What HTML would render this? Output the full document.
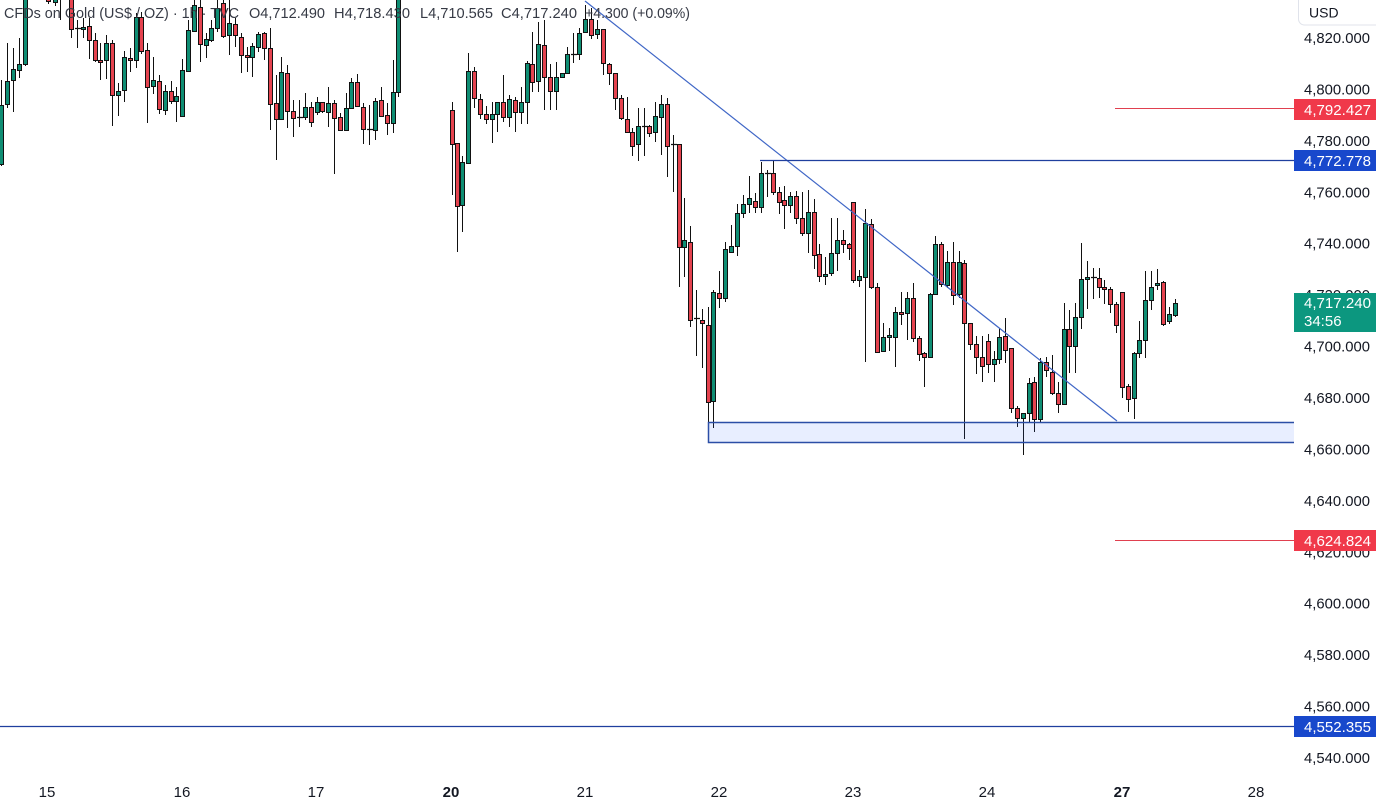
<!DOCTYPE html>
<html><head><meta charset="utf-8"><style>
html,body{margin:0;padding:0;background:#fff;}
svg{display:block;font-family:"Liberation Sans",Arial,sans-serif;}
</style></head><body>
<svg width="1376" height="803" viewBox="0 0 1376 803" xmlns="http://www.w3.org/2000/svg">
<rect x="0" y="0" width="1376" height="803" fill="#fff"/>
<!-- wicks -->
<path fill="none" stroke="#111" stroke-width="1" d="M1.5 80V166M7.5 43V108M13.5 48V112M19.5 38V78M25.5 -5V66M48.5 -10V4M55.5 -10V6M60.5 -5V20M71.5 -5V38M77.5 20V48M83.5 18V38M89.5 18V59M95.5 33V62M100.5 43V80M106.5 35V79M112.5 40V126M118.5 83V116M124.5 51V102M130.5 48V72M136.5 13V68M141.5 12V54M147.5 43V123M153.5 57V94M159.5 75V114M165.5 85V115M171.5 81V104M176.5 87V122M182.5 59V117M188.5 20V72M194.5 0V32M200.5 0V62M206.5 33V58M211.5 20V42M217.5 0V32M223.5 0V38M229.5 0V55M235.5 18V47M241.5 33V73M247.5 47V72M252.5 43V77M258.5 32V52M264.5 32V60M270.5 28V130M276.5 75V160M281.5 57V120M287.5 65V128M293.5 100V137M299.5 100V127M305.5 93V120M311.5 102V127M317.5 97V115M322.5 102V113M328.5 87V127M334.5 100V174M340.5 113V131M346.5 93V131M351.5 78V109M357.5 74V107M363.5 103V144M369.5 105V145M375.5 98V140M381.5 87V117M387.5 103V135M393.5 60V133M398.5 -10V97M452.5 102V195M457.5 143V252M462.5 156V232M468.5 53V164M474.5 67V108M480.5 94V119M486.5 106V124M492.5 102V143M497.5 102V132M503.5 75V122M509.5 95V127M515.5 97V132M521.5 87V124M527.5 61V124M532.5 32V92M538.5 22V92M544.5 20V110M550.5 64V110M556.5 62V110M562.5 73V77M567.5 47V74M573.5 33V63M579.5 28V60M585.5 5V32M591.5 8V39M597.5 20V39M603.5 29V75M609.5 63V85M615.5 73V110M621.5 95V120M627.5 97V133M632.5 128V156M638.5 108V161M644.5 108V156M649.5 125V137M655.5 102V142M661.5 95V155M667.5 98V177M673.5 135V192M679.5 144V287M684.5 198V277M690.5 226V327M696.5 290V356M702.5 309V368M708.5 307V427M713.5 290V428M719.5 271V308M725.5 242V302M731.5 225V253M737.5 204V256M743.5 195V218M749.5 176V213M755.5 193V213M761.5 162V213M767.5 170V197M773.5 161V195M779.5 187V214M784.5 186V229M790.5 192V213M796.5 191V224M802.5 192V236M808.5 190V253M814.5 199V269M819.5 244V282M825.5 257V285M831.5 218V276M837.5 218V271M843.5 230V253M849.5 243V260M853.5 202V283M859.5 270V287M865.5 209V362M871.5 219V289M877.5 283V353M883.5 323V352M889.5 328V351M895.5 307V367M901.5 292V325M907.5 292V340M913.5 283V342M919.5 336V361M924.5 352V387M930.5 293V358M935.5 236V295M941.5 242V287M947.5 251V288M953.5 242V305M959.5 251V298M964.5 260V439M970.5 323V350M976.5 336V374M982.5 336V382M988.5 334V373M994.5 351V382M999.5 328V364M1005.5 318V363M1011.5 348V413M1017.5 406V427M1023.5 413V455M1029.5 378V422M1034.5 377V432M1040.5 358V422M1046.5 357V377M1052.5 355V395M1058.5 382V413M1064.5 303V405M1069.5 310V373M1075.5 303V373M1081.5 243V329M1087.5 261V309M1093.5 268V299M1099.5 268V298M1104.5 280V304M1110.5 287V313M1116.5 302V333M1122.5 292V398M1128.5 384V412M1134.5 352V419M1139.5 321V358M1145.5 271V358M1151.5 271V310M1157.5 269V290M1163.5 281V326M1169.5 307V324M1175.5 299V317"/>
<!-- green bodies -->
<path fill="#0f8e74" stroke="#111" stroke-width="1" d="M-0.5 105.5h4v59h-4zM5.5 81.5h4v23h-4zM11.5 69.5h4v11h-4zM17.5 64.5h4v6h-4zM23.5 -4.5h4v69h-4zM53.5 -9.5h4v12h-4zM81.5 27.5h4v2h-4zM104.5 43.5h4v17h-4zM116.5 91.5h4v4h-4zM122.5 57.5h4v33h-4zM134.5 17.5h4v43h-4zM151.5 80.5h4v6h-4zM163.5 91.5h4v19h-4zM174.5 96.5h4v5h-4zM180.5 70.5h4v46h-4zM186.5 30.5h4v41h-4zM192.5 5.5h4v26h-4zM204.5 39.5h4v6h-4zM209.5 28.5h4v12h-4zM215.5 8.5h4v20h-4zM227.5 23.5h4v12h-4zM250.5 46.5h4v11h-4zM256.5 34.5h4v13h-4zM279.5 72.5h4v47h-4zM303.5 107.5h4v10h-4zM315.5 102.5h4v10h-4zM326.5 103.5h4v9h-4zM344.5 108.5h4v22h-4zM349.5 82.5h4v26h-4zM373.5 101.5h4v29h-4zM391.5 92.5h4v31h-4zM396.5 -9.5h4v102h-4zM460.5 162.5h4v43h-4zM466.5 71.5h4v92h-4zM490.5 114.5h4v5h-4zM495.5 102.5h4v12h-4zM507.5 99.5h4v18h-4zM519.5 102.5h4v10h-4zM525.5 63.5h4v39h-4zM536.5 44.5h4v37h-4zM554.5 77.5h4v14h-4zM560.5 73.5h4v4h-4zM565.5 54.5h4v19h-4zM577.5 33.5h4v21h-4zM583.5 19.5h4v13h-4zM595.5 29.5h4v5h-4zM636.5 126.5h4v18h-4zM653.5 116.5h4v16h-4zM659.5 104.5h4v13h-4zM682.5 240.5h4v7h-4zM711.5 292.5h4v109h-4zM723.5 249.5h4v49h-4zM729.5 246.5h4v6h-4zM735.5 213.5h4v33h-4zM741.5 204.5h4v9h-4zM747.5 198.5h4v6h-4zM759.5 173.5h4v34h-4zM788.5 196.5h4v9h-4zM806.5 212.5h4v21h-4zM823.5 274.5h4v2h-4zM829.5 253.5h4v20h-4zM835.5 240.5h4v13h-4zM857.5 276.5h4v4h-4zM863.5 223.5h4v54h-4zM881.5 337.5h4v14h-4zM887.5 335.5h4v2h-4zM893.5 312.5h4v25h-4zM905.5 298.5h4v15h-4zM928.5 294.5h4v63h-4zM933.5 244.5h4v50h-4zM945.5 262.5h4v23h-4zM957.5 262.5h4v32h-4zM992.5 359.5h4v5h-4zM997.5 337.5h4v22h-4zM1021.5 413.5h4v5h-4zM1027.5 383.5h4v30h-4zM1038.5 362.5h4v57h-4zM1062.5 329.5h4v75h-4zM1073.5 317.5h4v29h-4zM1079.5 279.5h4v38h-4zM1085.5 277.5h4v2h-4zM1132.5 353.5h4v45h-4zM1137.5 340.5h4v13h-4zM1143.5 300.5h4v40h-4zM1149.5 287.5h4v13h-4zM1155.5 283.5h4v2h-4zM1167.5 314.5h4v7h-4zM1173.5 303.5h4v12h-4z"/>
<!-- red bodies -->
<path fill="#e5434f" stroke="#111" stroke-width="1" d="M46.5 -9.5h4v11h-4zM69.5 -4.5h4v34h-4zM87.5 26.5h4v14h-4zM93.5 40.5h4v20h-4zM98.5 60.5h4v2h-4zM110.5 43.5h4v52h-4zM128.5 58.5h4v2h-4zM139.5 17.5h4v34h-4zM145.5 50.5h4v37h-4zM157.5 81.5h4v28h-4zM169.5 91.5h4v10h-4zM198.5 7.5h4v37h-4zM221.5 3.5h4v33h-4zM233.5 24.5h4v11h-4zM239.5 37.5h4v18h-4zM245.5 55.5h4v2h-4zM262.5 33.5h4v15h-4zM268.5 48.5h4v56h-4zM274.5 103.5h4v16h-4zM285.5 73.5h4v38h-4zM291.5 111.5h4v7h-4zM309.5 107.5h4v15h-4zM320.5 102.5h4v9h-4zM332.5 103.5h4v15h-4zM338.5 117.5h4v13h-4zM355.5 82.5h4v24h-4zM361.5 107.5h4v22h-4zM379.5 100.5h4v16h-4zM385.5 115.5h4v8h-4zM450.5 110.5h4v34h-4zM455.5 143.5h4v63h-4zM472.5 71.5h4v27h-4zM478.5 99.5h4v15h-4zM484.5 114.5h4v5h-4zM501.5 102.5h4v15h-4zM513.5 100.5h4v12h-4zM530.5 64.5h4v18h-4zM542.5 45.5h4v32h-4zM548.5 77.5h4v14h-4zM589.5 19.5h4v16h-4zM601.5 29.5h4v34h-4zM607.5 64.5h4v9h-4zM613.5 73.5h4v25h-4zM619.5 98.5h4v20h-4zM625.5 119.5h4v13h-4zM630.5 132.5h4v14h-4zM647.5 126.5h4v7h-4zM665.5 104.5h4v42h-4zM677.5 144.5h4v103h-4zM688.5 242.5h4v78h-4zM700.5 320.5h4v3h-4zM706.5 325.5h4v77h-4zM717.5 293.5h4v5h-4zM753.5 201.5h4v6h-4zM771.5 173.5h4v19h-4zM777.5 192.5h4v10h-4zM782.5 200.5h4v5h-4zM794.5 196.5h4v22h-4zM800.5 218.5h4v15h-4zM812.5 212.5h4v43h-4zM817.5 254.5h4v22h-4zM841.5 240.5h4v4h-4zM847.5 244.5h4v4h-4zM851.5 202.5h4v78h-4zM869.5 224.5h4v63h-4zM875.5 287.5h4v65h-4zM899.5 312.5h4v2h-4zM911.5 298.5h4v40h-4zM917.5 338.5h4v16h-4zM922.5 353.5h4v4h-4zM939.5 244.5h4v40h-4zM951.5 262.5h4v33h-4zM962.5 263.5h4v60h-4zM968.5 323.5h4v21h-4zM974.5 344.5h4v13h-4zM980.5 357.5h4v9h-4zM986.5 341.5h4v23h-4zM1003.5 336.5h4v14h-4zM1009.5 348.5h4v60h-4zM1015.5 408.5h4v10h-4zM1032.5 382.5h4v37h-4zM1044.5 362.5h4v8h-4zM1050.5 372.5h4v21h-4zM1056.5 393.5h4v11h-4zM1067.5 329.5h4v17h-4zM1097.5 278.5h4v9h-4zM1102.5 287.5h4v2h-4zM1108.5 289.5h4v15h-4zM1114.5 304.5h4v21h-4zM1120.5 292.5h4v95h-4zM1126.5 386.5h4v13h-4zM1161.5 282.5h4v42h-4z"/>
<!-- dojis -->
<path fill="none" stroke="#111" stroke-width="1.2" d="M75 28.5h6M297 117.5h6M367 129.5h6M571 54.5h6M642 126.5h6M671 144.5h6M694 318.5h6M765 173.5h6M1091 277.5h6"/>

<!-- zone -->
<rect x="708" y="422" width="586" height="20" fill="rgba(41,98,255,0.11)"/>
<path fill="none" stroke="#2b4ea6" stroke-width="1.5" d="M1294 422.5H708.5V442.5H1294"/>
<!-- trend line -->
<line x1="585" y1="1" x2="1117" y2="421" stroke="#3f66c6" stroke-width="1.2"/>
<!-- horizontal lines -->
<line x1="760" y1="160.5" x2="1294" y2="160.5" stroke="#1f3f9e" stroke-width="1.2"/>
<line x1="0" y1="726.5" x2="1294" y2="726.5" stroke="#1f3f9e" stroke-width="1.2"/>
<line x1="1115" y1="108.5" x2="1294" y2="108.5" stroke="#e0404f" stroke-width="1"/>
<line x1="1115" y1="540.5" x2="1294" y2="540.5" stroke="#e0404f" stroke-width="1"/>

<!-- price axis ticks -->
<g font-size="15" fill="#131722">
<text x="1304" y="43" textLength="66" lengthAdjust="spacingAndGlyphs">4,820.000</text>
<text x="1304" y="94.4" textLength="66" lengthAdjust="spacingAndGlyphs">4,800.000</text>
<text x="1304" y="145.9" textLength="66" lengthAdjust="spacingAndGlyphs">4,780.000</text>
<text x="1304" y="197.3" textLength="66" lengthAdjust="spacingAndGlyphs">4,760.000</text>
<text x="1304" y="248.7" textLength="66" lengthAdjust="spacingAndGlyphs">4,740.000</text>
<text x="1304" y="300.2" textLength="66" lengthAdjust="spacingAndGlyphs">4,720.000</text>
<text x="1304" y="351.6" textLength="66" lengthAdjust="spacingAndGlyphs">4,700.000</text>
<text x="1304" y="403" textLength="66" lengthAdjust="spacingAndGlyphs">4,680.000</text>
<text x="1304" y="454.4" textLength="66" lengthAdjust="spacingAndGlyphs">4,660.000</text>
<text x="1304" y="505.9" textLength="66" lengthAdjust="spacingAndGlyphs">4,640.000</text>
<text x="1304" y="557.3" textLength="66" lengthAdjust="spacingAndGlyphs">4,620.000</text>
<text x="1304" y="608.7" textLength="66" lengthAdjust="spacingAndGlyphs">4,600.000</text>
<text x="1304" y="660.2" textLength="66" lengthAdjust="spacingAndGlyphs">4,580.000</text>
<text x="1304" y="711.6" textLength="66" lengthAdjust="spacingAndGlyphs">4,560.000</text>
<text x="1304" y="763" textLength="66" lengthAdjust="spacingAndGlyphs">4,540.000</text>
</g>

<!-- price labels -->
<rect x="1294" y="99" width="82" height="21" fill="#f0394a"/>
<rect x="1294" y="150" width="82" height="21" fill="#1848cc"/>
<rect x="1294" y="293" width="82" height="39" fill="#0c977f"/>
<rect x="1294" y="530" width="82" height="21" fill="#f0394a"/>
<rect x="1294" y="716" width="82" height="21" fill="#1848cc"/>
<g font-size="15" fill="#fff">
<text x="1304" y="115" textLength="67" lengthAdjust="spacingAndGlyphs">4,792.427</text>
<text x="1304" y="166" textLength="67" lengthAdjust="spacingAndGlyphs">4,772.778</text>
<text x="1304" y="308" textLength="67" lengthAdjust="spacingAndGlyphs">4,717.240</text>
<text x="1304" y="326">34:56</text>
<text x="1304" y="546" textLength="67" lengthAdjust="spacingAndGlyphs">4,624.824</text>
<text x="1304" y="732" textLength="67" lengthAdjust="spacingAndGlyphs">4,552.355</text>
</g>

<!-- USD box -->
<rect x="1298.5" y="-6" width="90" height="31" rx="6" fill="#fff" stroke="#e0e3eb"/>
<text x="1309" y="17.5" font-size="14" fill="#131722">USD</text>

<!-- time axis -->
<g font-size="15" fill="#131722" text-anchor="middle">
<text x="47" y="797">15</text>
<text x="182" y="797">16</text>
<text x="316" y="797">17</text>
<text x="451" y="797" font-weight="bold">20</text>
<text x="585" y="797">21</text>
<text x="719" y="797">22</text>
<text x="853" y="797">23</text>
<text x="987" y="797">24</text>
<text x="1122" y="797" font-weight="bold">27</text>
<text x="1256" y="797">28</text>
</g>

<!-- header legend -->
<g font-size="15" fill="#363a45">
<text x="4" y="18" textLength="235" lengthAdjust="spacingAndGlyphs">CFDs on Gold (US$ / OZ) · 1h · TVC</text>
<text x="249" y="18" textLength="76" lengthAdjust="spacingAndGlyphs">O4,712.490</text>
<text x="334" y="18" textLength="76" lengthAdjust="spacingAndGlyphs">H4,718.430</text>
<text x="420" y="18" textLength="73" lengthAdjust="spacingAndGlyphs">L4,710.565</text>
<text x="501" y="18" textLength="76" lengthAdjust="spacingAndGlyphs">C4,717.240</text>
<text x="585" y="18" textLength="105" lengthAdjust="spacingAndGlyphs">+4.300 (+0.09%)</text>
</g>
</svg>
</body></html>
